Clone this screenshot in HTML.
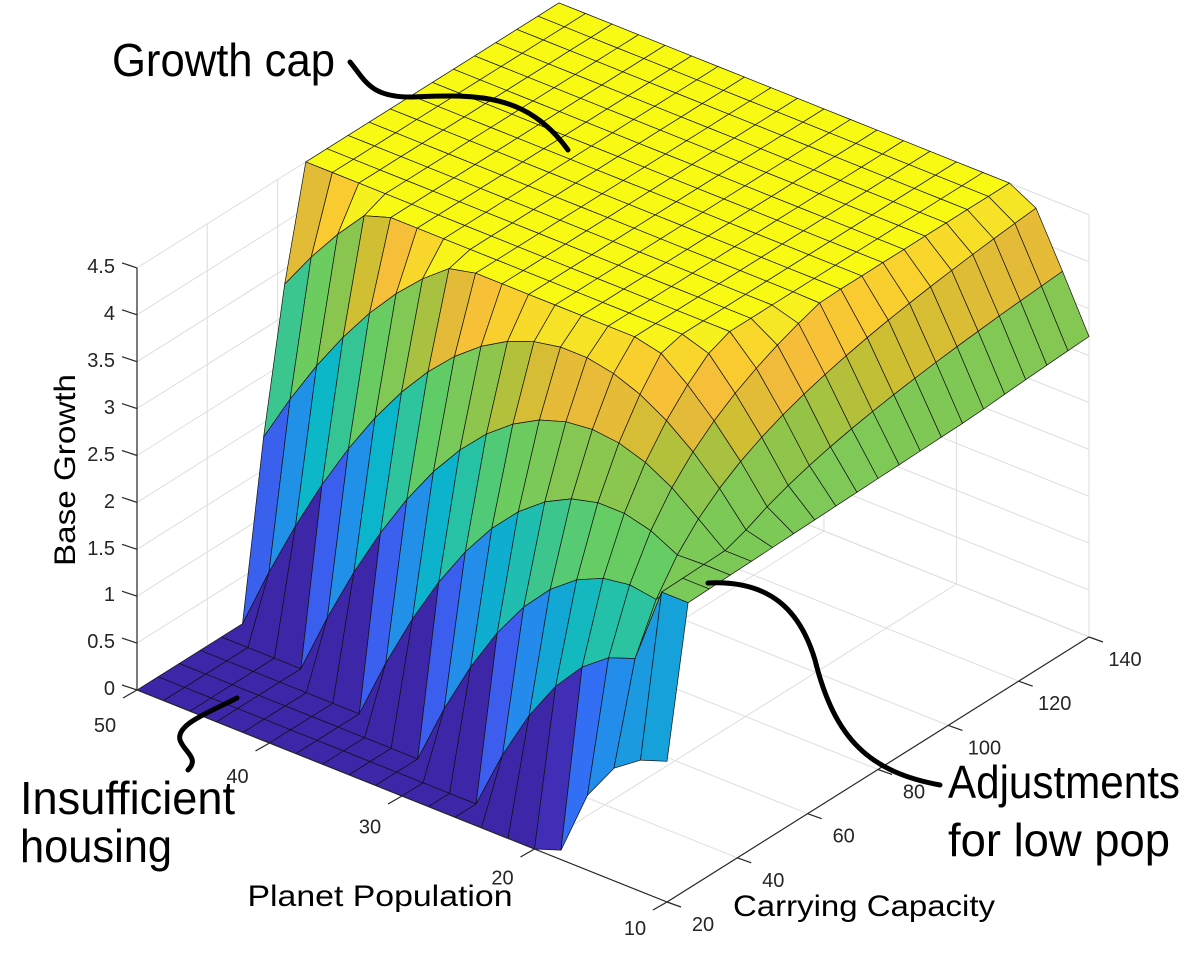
<!DOCTYPE html>
<html><head><meta charset="utf-8"><style>
html,body{margin:0;padding:0;background:#fff;}
svg{display:block;}
text{font-family:"Liberation Sans",sans-serif;}
</style></head><body>
<svg id="s" width="1200" height="971" viewBox="0 0 1200 971" xmlns="http://www.w3.org/2000/svg">
<g id="grid"></g>
<g id="surf"></g>
<g id="axes"></g>
<g id="labels" fill="#262626" font-size="20">
<text x="115" y="273" text-anchor="end">4.5</text>
<text x="115" y="320" text-anchor="end">4</text>
<text x="115" y="367" text-anchor="end">3.5</text>
<text x="115" y="414" text-anchor="end">3</text>
<text x="115" y="461" text-anchor="end">2.5</text>
<text x="115" y="508" text-anchor="end">2</text>
<text x="115" y="555" text-anchor="end">1.5</text>
<text x="115" y="601" text-anchor="end">1</text>
<text x="115" y="648" text-anchor="end">0.5</text>
<text x="115" y="695" text-anchor="end">0</text>
</g>
<g id="ticklabels" fill="#262626" font-size="20"></g>
<text x="0" y="0" font-size="30" fill="#000" text-anchor="middle" transform="translate(75,470) rotate(-90)" textLength="192" lengthAdjust="spacingAndGlyphs">Base Growth</text>
<text x="380" y="906" font-size="30" fill="#000" text-anchor="middle" textLength="265" lengthAdjust="spacingAndGlyphs">Planet Population</text>
<text x="864" y="916" font-size="30" fill="#000" text-anchor="middle" textLength="262" lengthAdjust="spacingAndGlyphs">Carrying Capacity</text>
<text x="112" y="76" font-size="46" fill="#000" textLength="223" lengthAdjust="spacingAndGlyphs">Growth cap</text>
<text x="20" y="814" font-size="46" fill="#000" textLength="215" lengthAdjust="spacingAndGlyphs">Insufficient</text>
<text x="20" y="862" font-size="46" fill="#000" textLength="152" lengthAdjust="spacingAndGlyphs">housing</text>
<text x="948" y="798" font-size="46" fill="#000" textLength="232" lengthAdjust="spacingAndGlyphs">Adjustments</text>
<text x="948" y="856" font-size="46" fill="#000" textLength="222" lengthAdjust="spacingAndGlyphs">for low pop</text>
<g fill="none" stroke="#000" stroke-width="5" stroke-linecap="round">
<path d="M350,62 C365,80 370,97 410,97 C470,95 525,90 568,150"/>
<path d="M237,698 C210,712 176,724 180,740 C184,752 200,758 188,770"/>
<path d="M708,583 C770,580 800,610 815,660 C835,740 870,772 940,785"/>
</g>
</svg>
<script>
(function(){
var NS="http://www.w3.org/2000/svg";
function proj(p,c,z){return [667-13.25*(p-10)+3.517*(c-20), 902-5.3*(p-10)-2.208*(c-20)-93.8*z];}
function el(parent,tag,attrs,txt){var e=document.createElementNS(NS,tag);for(var k in attrs)e.setAttribute(k,attrs[k]);if(txt!==undefined)e.textContent=txt;parent.appendChild(e);return e;}
function line(g,a,b,col,w){el(g,"line",{x1:a[0].toFixed(1),y1:a[1].toFixed(1),x2:b[0].toFixed(1),y2:b[1].toFixed(1),stroke:col,"stroke-width":w});}
var grid=document.getElementById("grid"), axes=document.getElementById("axes"), surf=document.getElementById("surf"), tl=document.getElementById("ticklabels");
var gc="#dedede";
var pt=[10,20,30,40,50], ct=[20,40,60,80,100,120,140], zt=[];
for(var i=0;i<=9;i++)zt.push(i*0.5);
pt.forEach(function(p){line(grid,proj(p,20,0),proj(p,140,0),gc,1);});
ct.forEach(function(c){line(grid,proj(10,c,0),proj(50,c,0),gc,1);});
ct.forEach(function(c){line(grid,proj(50,c,0),proj(50,c,4.5),gc,1);});
zt.forEach(function(z){line(grid,proj(50,20,z),proj(50,140,z),gc,1);});
pt.forEach(function(p){line(grid,proj(p,140,0),proj(p,140,4.5),gc,1);});
zt.forEach(function(z){line(grid,proj(10,140,z),proj(50,140,z),gc,1);});
var stops=[[0,62,38,168],[0.10,70,72,230],[0.20,45,122,248],[0.30,30,150,228],[0.40,10,182,202],[0.50,45,196,158],[0.60,100,205,100],[0.70,130,200,85],[0.76,150,195,70],[0.80,205,190,50],[0.86,245,185,60],[0.93,250,210,45],[0.97,245,235,35],[1,249,250,20]];
function cmap(t){t=Math.max(0,Math.min(1,t));for(var i=1;i<stops.length;i++){if(t<=stops[i][0]){var a=stops[i-1],b=stops[i],u=(t-a[0])/(b[0]-a[0]);return "rgb("+Math.round(a[1]+u*(b[1]-a[1]))+","+Math.round(a[2]+u*(b[2]-a[2]))+","+Math.round(a[3]+u*(b[3]-a[3]))+")";}}return "rgb(249,250,20)";}
var front={18:0.1,16:0.8,14:1.2,12:1.4,10:1.5};
function f(p,c){
 var v=0.345*p*(1-p/c);
 if(c<20.5 && p<19.5){var k=Math.round(p);if(front[k]!==undefined)v=front[k];}
 else if(p<=12.5 && c>=25){v=Math.max(v,3.05+0.11*(c-26)/114);}
 return Math.max(0,Math.min(4.5,v));}
var NP=20, NC=20, ps=[], cs=[];
for(var i=0;i<=NP;i++)ps.push(10+40*i/NP);
for(var j=0;j<=NC;j++)cs.push(20+120*j/NC);
var Z=[];for(var i=0;i<=NP;i++){Z.push([]);for(var j=0;j<=NC;j++)Z[i].push(f(ps[i],cs[j]));}
var faces=[];
for(var i=0;i<NP;i++)for(var j=0;j<NC;j++){
 var pc=(ps[i]+ps[i+1])/2, cc=(cs[j]+cs[j+1])/2, zc=(Z[i][j]+Z[i+1][j]+Z[i][j+1]+Z[i+1][j+1])/4;
 faces.push({i:i,j:j,d:-329.9*pc-1242.9*cc+47.9*zc});
}
faces.sort(function(a,b){return a.d-b.d;});
faces.forEach(function(F){
 var i=F.i,j=F.j;
 var a=proj(ps[i],cs[j],Z[i][j]),b=proj(ps[i+1],cs[j],Z[i+1][j]),c=proj(ps[i+1],cs[j+1],Z[i+1][j+1]),d=proj(ps[i],cs[j+1],Z[i][j+1]);
 var pts=[a,b,c,d].map(function(q){return q[0].toFixed(1)+","+q[1].toFixed(1);}).join(" ");
 el(surf,"polygon",{points:pts,fill:cmap(Z[i][j]/4.5),stroke:"#111","stroke-width":"0.7","stroke-linejoin":"round"});
});
var ac="#262626";
line(axes,proj(50,20,0),proj(50,20,4.5),ac,1.2);
line(axes,proj(10,20,0),proj(50,20,0),ac,1.2);
line(axes,proj(10,20,0),proj(10,140,0),ac,1.2);
zt.forEach(function(z){var a=proj(50,20,z);line(axes,a,[a[0]-15,a[1]-5],ac,1.2);});
pt.forEach(function(p){var a=proj(p,20,0);line(axes,a,[a[0]-14,a[1]+8],ac,1.2);
 var oy=26+9*(p-10)/40;el(tl,"text",{x:(a[0]-32).toFixed(1),y:(a[1]+oy+7).toFixed(1),"text-anchor":"middle"},String(p));});
ct.forEach(function(c){var a=proj(10,c,0);line(axes,a,[a[0]+14,a[1]+5],ac,1.2);
 el(tl,"text",{x:(a[0]+36).toFixed(1),y:(a[1]+22+7).toFixed(1),"text-anchor":"middle"},String(c));});
})();
</script>
</body></html>
